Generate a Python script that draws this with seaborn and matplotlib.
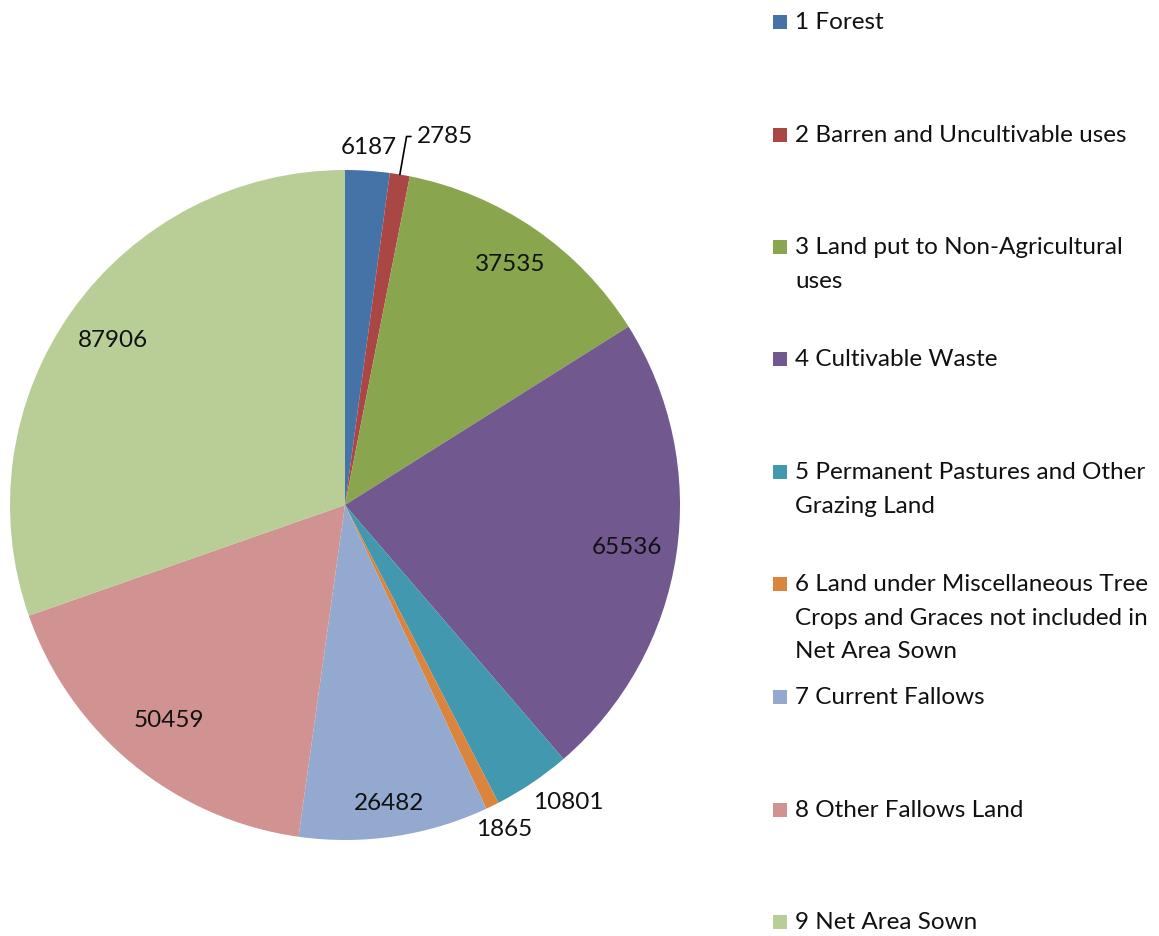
import numpy as np
import matplotlib.pyplot as plt
import seaborn as sns
from matplotlib.patches import Rectangle

categories = [
    "1 Forest",
    "2 Barren and Uncultivable uses",
    "3 Land put to Non-Agricultural\nuses",
    "4 Cultivable Waste",
    "5 Permanent Pastures and Other\nGrazing Land",
    "6 Land under Miscellaneous Tree\nCrops and Graces not included in\nNet Area Sown",
    "7 Current Fallows",
    "8 Other Fallows Land",
    "9 Net Area Sown",
]
values = [6187, 2785, 37535, 65536, 10801, 1865, 26482, 50459, 87906]
colors = ["#4572A7", "#AA4643", "#89A54E", "#71588F", "#4198AF",
          "#DB843D", "#93A9CF", "#D19392", "#B9CD96"]

# value label placement: radius (fraction of pie radius) and angle nudge (deg)
label_r = [1.07, None, 0.87, 0.85, 1.11, 1.08, 0.90, 0.83, 0.85]
label_nudge = [0, 0, 0, 0, 3, 0, 0, 0, 0]

sns.set_style("white")
plt.rcParams["font.family"] = ["Lato", "DejaVu Sans"]

W, H = 1159, 936
fig = plt.figure(figsize=(W / 100, H / 100), dpi=100)

cx, cy, R = 345, 505, 335
ax = fig.add_axes([(cx - R) / W, (H - cy - R) / H, 2 * R / W, 2 * R / H])
wedges, _ = ax.pie(values, colors=colors, startangle=90, counterclock=False,
                   radius=1.0, wedgeprops=dict(linewidth=0))
ax.set_xlim(-1, 1)
ax.set_ylim(-1, 1)
ax.set_aspect("equal")
ax.axis("off")

fs = 17.5
txt = "#111111"
for w, v, r, nd in zip(wedges, values, label_r, label_nudge):
    mid = np.deg2rad((w.theta1 + w.theta2) / 2 + nd)
    if r is None:
        # small slice: label with a leader line
        ex, ey = np.cos(mid), np.sin(mid)
        ax.annotate(str(v), xy=(ex, ey), xytext=(0.215, 1.10),
                    fontsize=fs, ha="left", va="center", color=txt,
                    arrowprops=dict(arrowstyle="-", color="black", lw=1.2,
                                    connectionstyle="angle,angleA=0,angleB=80,rad=0",
                                    shrinkA=2, shrinkB=0),
                    annotation_clip=False)
        continue
    ax.text(r * np.cos(mid), r * np.sin(mid), str(v), fontsize=fs,
            ha="center", va="center", color=txt, clip_on=False)

# legend
ys = [22, 135, 247, 359, 472, 584, 697, 810, 922]
for lab, col, y in zip(categories, colors, ys):
    fig.add_artist(Rectangle((773 / W, (H - y - 7) / H), 14 / W, 14 / H,
                             transform=fig.transFigure, color=col, lw=0))
    fig.text(795 / W, (H - y + 10) / H, lab, fontsize=fs, ha="left",
             va="top", color=txt, linespacing=1.75)

fig.savefig("out.png", dpi=100)
